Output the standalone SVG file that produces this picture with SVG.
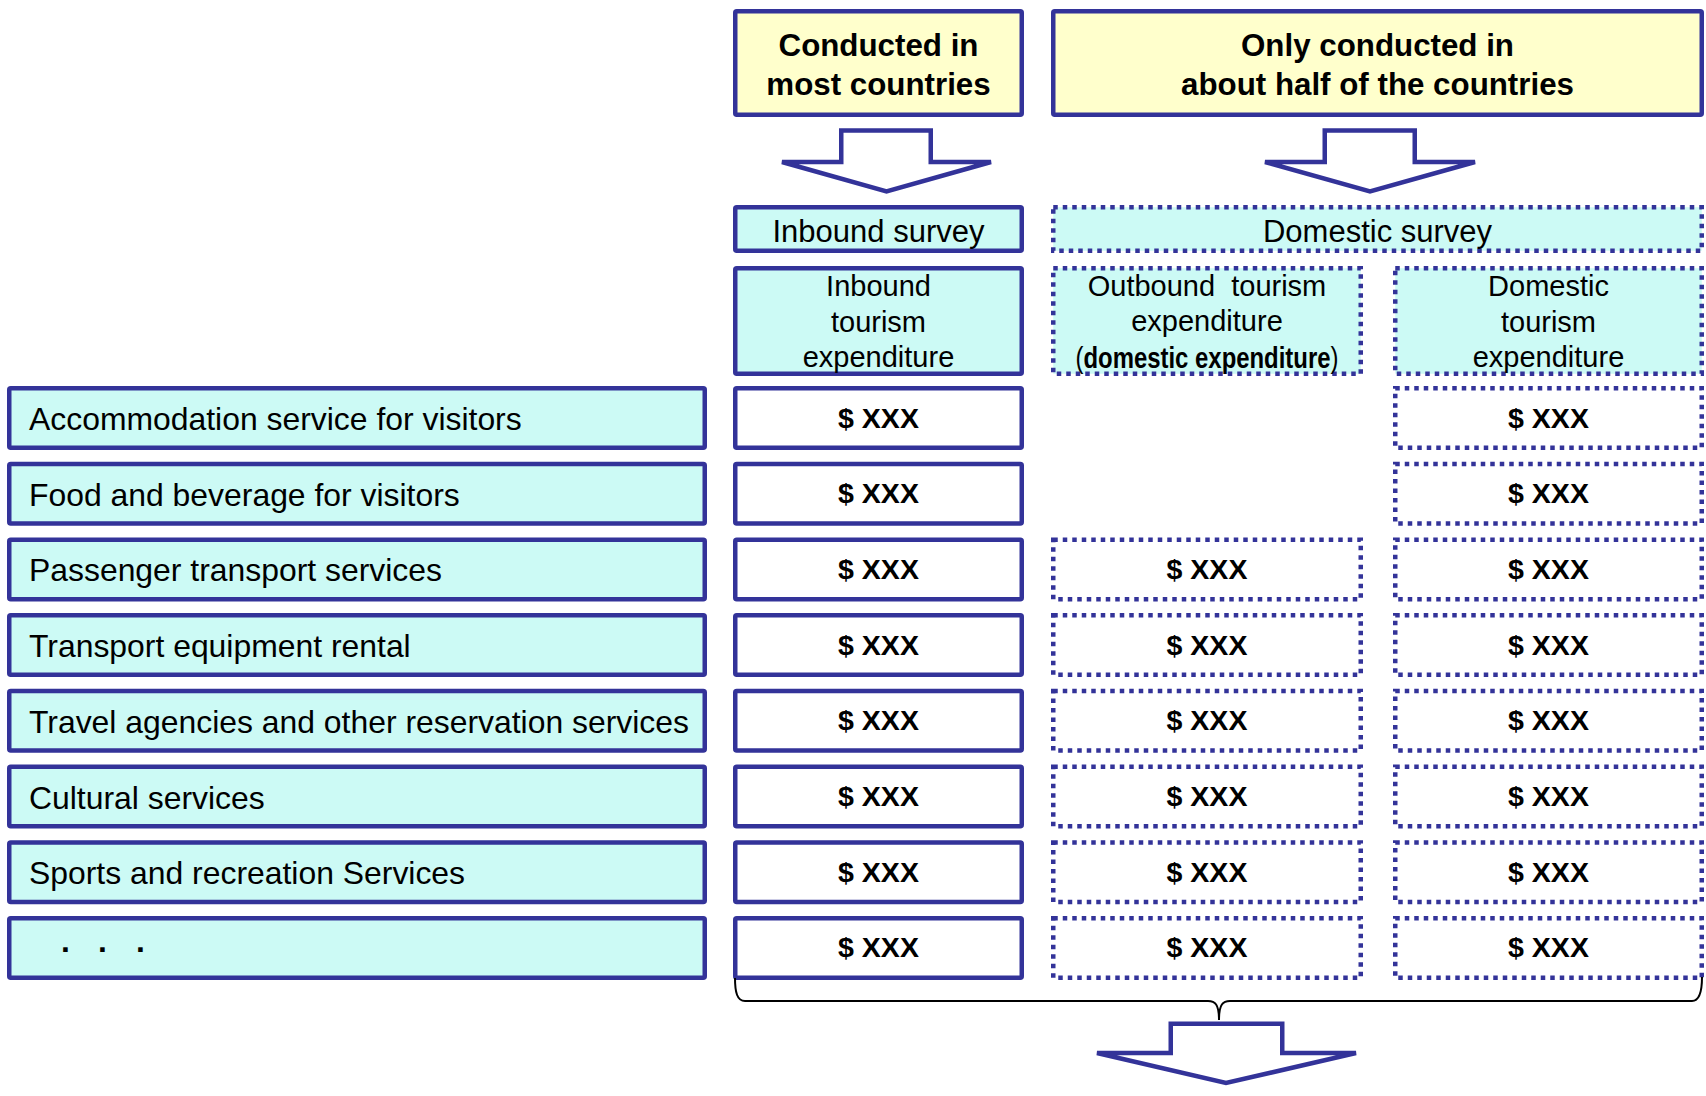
<svg xmlns="http://www.w3.org/2000/svg" width="1706" height="1096" viewBox="0 0 1706 1096">
  <style>
    .title { fill: #FFFFCC; stroke: #333399; stroke-width: 4.5; }
    .solid { stroke: #333399; stroke-width: 4.5; }
    .dot { stroke: #333399; stroke-width: 4.5; stroke-dasharray: 4.5 5; }
    .cyan { fill: #CCFAF5; }
    .white { fill: #FFFFFF; }
    .arrow { fill: #FFFFFF; stroke: #333399; stroke-width: 4.5; }
    .brace { fill: none; stroke: #000000; stroke-width: 2; }
    text { font-family: "Liberation Sans", Arial, sans-serif; fill: #000000; }
    .tb { font-size: 31.3px; font-weight: bold; text-anchor: middle; }
    .sv { font-size: 31px; text-anchor: middle; }
    .hd { font-size: 29px; text-anchor: middle; }
    .lb { font-size: 31.9px; }
    .val { font-size: 28.5px; font-weight: bold; text-anchor: middle; }
  </style>

  <!-- survey availability -->
  <g id="most-countries">
    <rect class="title" x="735.25" y="11.25" width="286.5" height="103.5" rx="1.5"/>
    <text class="tb" x="878.5" y="56">Conducted in</text>
    <text class="tb" x="878.5" y="94.5">most countries</text>
  </g>
  <g id="half-countries">
    <rect class="title" x="1053.25" y="11.25" width="648.5" height="103.5" rx="1.5"/>
    <text class="tb" x="1377.5" y="56">Only conducted in</text>
    <text class="tb" x="1377.5" y="94.5">about half of the countries</text>
  </g>

  <!-- surveys -->
  <g id="inbound-survey">
    <rect class="solid cyan" x="735.25" y="207.25" width="286.5" height="43.5" rx="1.5"/>
    <text class="sv" x="878.5" y="242">Inbound survey</text>
  </g>
  <g id="domestic-survey">
    <rect class="dot cyan" x="1053.25" y="207.25" width="648.5" height="43.5"/>
    <text class="sv" x="1377.5" y="242">Domestic survey</text>
  </g>

  <!-- expenditure headers -->
  <g id="inbound-expenditure">
    <rect class="solid cyan" x="735.25" y="268.25" width="286.5" height="105.5" rx="1.5"/>
    <text class="hd" x="878.5" y="296">Inbound</text>
    <text class="hd" x="878.5" y="332">tourism</text>
    <text class="hd" x="878.5" y="367">expenditure</text>
  </g>
  <g id="outbound-expenditure">
    <rect class="dot cyan" x="1053.25" y="268.25" width="307.5" height="105.5"/>
    <text class="hd" x="1207" y="296">Outbound&#160; tourism</text>
    <text class="hd" x="1207" y="331">expenditure</text>
    <text class="hd" x="1207" y="368" textLength="263" lengthAdjust="spacingAndGlyphs">(<tspan font-weight="bold">domestic expenditure</tspan>)</text>
  </g>
  <g id="domestic-expenditure">
    <rect class="dot cyan" x="1395.25" y="268.25" width="306.5" height="105.5"/>
    <text class="hd" x="1548.5" y="296">Domestic</text>
    <text class="hd" x="1548.5" y="332">tourism</text>
    <text class="hd" x="1548.5" y="367">expenditure</text>
  </g>

  <!-- product rows -->
  <g id="row-accommodation">
    <rect class="solid cyan" x="9.25" y="388.25" width="695.5" height="59.5" rx="1.5"/>
    <text class="lb" x="29" y="430">Accommodation service for visitors</text>
    <rect class="solid white" x="735.25" y="388.25" width="286.5" height="59.5" rx="1.5"/>
    <text class="val" x="878.5" y="427.5">$ XXX</text>
    <rect class="dot white" x="1395.25" y="388.25" width="306.5" height="59.5"/>
    <text class="val" x="1548.5" y="427.5">$ XXX</text>
  </g>
  <g id="row-food">
    <rect class="solid cyan" x="9.25" y="463.95" width="695.5" height="59.5" rx="1.5"/>
    <text class="lb" x="29" y="505.7">Food and beverage for visitors</text>
    <rect class="solid white" x="735.25" y="463.95" width="286.5" height="59.5" rx="1.5"/>
    <text class="val" x="878.5" y="503.2">$ XXX</text>
    <rect class="dot white" x="1395.25" y="463.95" width="306.5" height="59.5"/>
    <text class="val" x="1548.5" y="503.2">$ XXX</text>
  </g>
  <g id="row-passenger">
    <rect class="solid cyan" x="9.25" y="539.65" width="695.5" height="59.5" rx="1.5"/>
    <text class="lb" x="29" y="581.4">Passenger transport services</text>
    <rect class="solid white" x="735.25" y="539.65" width="286.5" height="59.5" rx="1.5"/>
    <text class="val" x="878.5" y="578.9">$ XXX</text>
    <rect class="dot white" x="1053.25" y="539.65" width="307.5" height="59.5"/>
    <text class="val" x="1207" y="578.9">$ XXX</text>
    <rect class="dot white" x="1395.25" y="539.65" width="306.5" height="59.5"/>
    <text class="val" x="1548.5" y="578.9">$ XXX</text>
  </g>
  <g id="row-rental">
    <rect class="solid cyan" x="9.25" y="615.35" width="695.5" height="59.5" rx="1.5"/>
    <text class="lb" x="29" y="657.1">Transport equipment rental</text>
    <rect class="solid white" x="735.25" y="615.35" width="286.5" height="59.5" rx="1.5"/>
    <text class="val" x="878.5" y="654.6">$ XXX</text>
    <rect class="dot white" x="1053.25" y="615.35" width="307.5" height="59.5"/>
    <text class="val" x="1207" y="654.6">$ XXX</text>
    <rect class="dot white" x="1395.25" y="615.35" width="306.5" height="59.5"/>
    <text class="val" x="1548.5" y="654.6">$ XXX</text>
  </g>
  <g id="row-travel">
    <rect class="solid cyan" x="9.25" y="691.05" width="695.5" height="59.5" rx="1.5"/>
    <text class="lb" x="29" y="732.8">Travel agencies and other reservation services</text>
    <rect class="solid white" x="735.25" y="691.05" width="286.5" height="59.5" rx="1.5"/>
    <text class="val" x="878.5" y="730.3">$ XXX</text>
    <rect class="dot white" x="1053.25" y="691.05" width="307.5" height="59.5"/>
    <text class="val" x="1207" y="730.3">$ XXX</text>
    <rect class="dot white" x="1395.25" y="691.05" width="306.5" height="59.5"/>
    <text class="val" x="1548.5" y="730.3">$ XXX</text>
  </g>
  <g id="row-cultural">
    <rect class="solid cyan" x="9.25" y="766.75" width="695.5" height="59.5" rx="1.5"/>
    <text class="lb" x="29" y="808.5">Cultural services</text>
    <rect class="solid white" x="735.25" y="766.75" width="286.5" height="59.5" rx="1.5"/>
    <text class="val" x="878.5" y="806">$ XXX</text>
    <rect class="dot white" x="1053.25" y="766.75" width="307.5" height="59.5"/>
    <text class="val" x="1207" y="806">$ XXX</text>
    <rect class="dot white" x="1395.25" y="766.75" width="306.5" height="59.5"/>
    <text class="val" x="1548.5" y="806">$ XXX</text>
  </g>
  <g id="row-sports">
    <rect class="solid cyan" x="9.25" y="842.45" width="695.5" height="59.5" rx="1.5"/>
    <text class="lb" x="29" y="884.2">Sports and recreation Services</text>
    <rect class="solid white" x="735.25" y="842.45" width="286.5" height="59.5" rx="1.5"/>
    <text class="val" x="878.5" y="881.7">$ XXX</text>
    <rect class="dot white" x="1053.25" y="842.45" width="307.5" height="59.5"/>
    <text class="val" x="1207" y="881.7">$ XXX</text>
    <rect class="dot white" x="1395.25" y="842.45" width="306.5" height="59.5"/>
    <text class="val" x="1548.5" y="881.7">$ XXX</text>
  </g>
  <g id="row-more">
    <rect class="solid cyan" x="9.25" y="918.15" width="695.5" height="59.5" rx="1.5"/>
    <text class="lb" x="61 98 136" y="952" font-weight="bold">...</text>
    <rect class="solid white" x="735.25" y="918.15" width="286.5" height="59.5" rx="1.5"/>
    <text class="val" x="878.5" y="957.4">$ XXX</text>
    <rect class="dot white" x="1053.25" y="918.15" width="307.5" height="59.5"/>
    <text class="val" x="1207" y="957.4">$ XXX</text>
    <rect class="dot white" x="1395.25" y="918.15" width="306.5" height="59.5"/>
    <text class="val" x="1548.5" y="957.4">$ XXX</text>
  </g>

  <!-- block arrows and the summing brace -->
  <g id="connectors">
    <polygon class="arrow" points="841.25,130.5 930.75,130.5 930.75,162 991,162 886.5,191.5 782,162 841.25,162"/>
    <polygon class="arrow" points="1324.75,130.5 1414.75,130.5 1414.75,162 1475,162 1370,191.5 1265,162 1324.75,162"/>
    <path class="brace" d="M735,978 C735,992 737,1001 745,1001 L1208,1001 C1215,1001 1219,1004 1219,1020 C1219,1004 1223,1001 1230,1001 L1692,1001 C1699,1001 1702,992 1702,977"/>
    <polygon class="arrow" stroke-width="5.5" points="1170.75,1023.75 1282.25,1023.75 1282.25,1053 1356,1053 1226,1083 1097,1053 1170.75,1053"/>
  </g>
</svg>
